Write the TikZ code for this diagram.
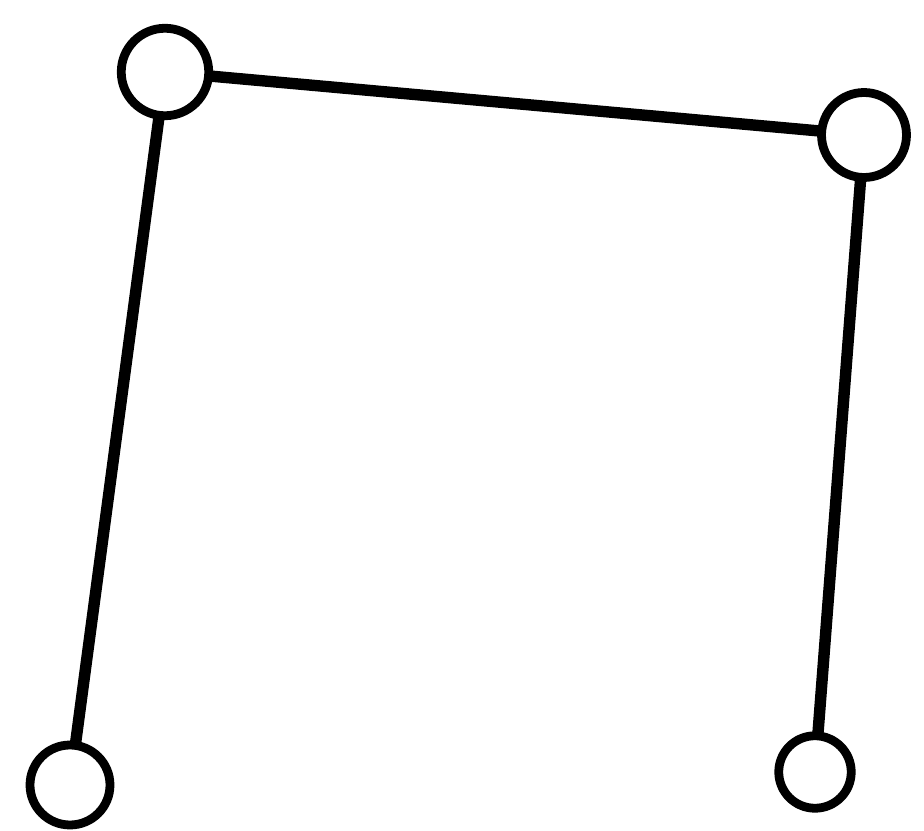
\documentclass[tikz,border=0pt]{standalone}
\usepackage{tikz}
\usetikzlibrary{positioning}

\begin{document}
\begin{tikzpicture}[x=0.02cm, y=-0.02cm, vert/.style={draw, circle, line width=5pt, inner sep=0pt}, link/.style={line width=6.5pt, line cap=round}]
\useasboundingbox (0,0) rectangle (924,831);
\node[vert, minimum size=1.75cm] (tl) at (165,72) {};
\node[vert, minimum size=1.7cm] (tr) at (864,135) {};
\node[vert, minimum size=1.6cm] (bl) at (70,785) {};
\node[vert, minimum size=1.45cm] (br) at (815,772) {};
\draw[link] (tl) -- (bl);
\draw[link] (tl) -- (tr);
\draw[link] (tr) -- (br);
\end{tikzpicture}
\end{document}
